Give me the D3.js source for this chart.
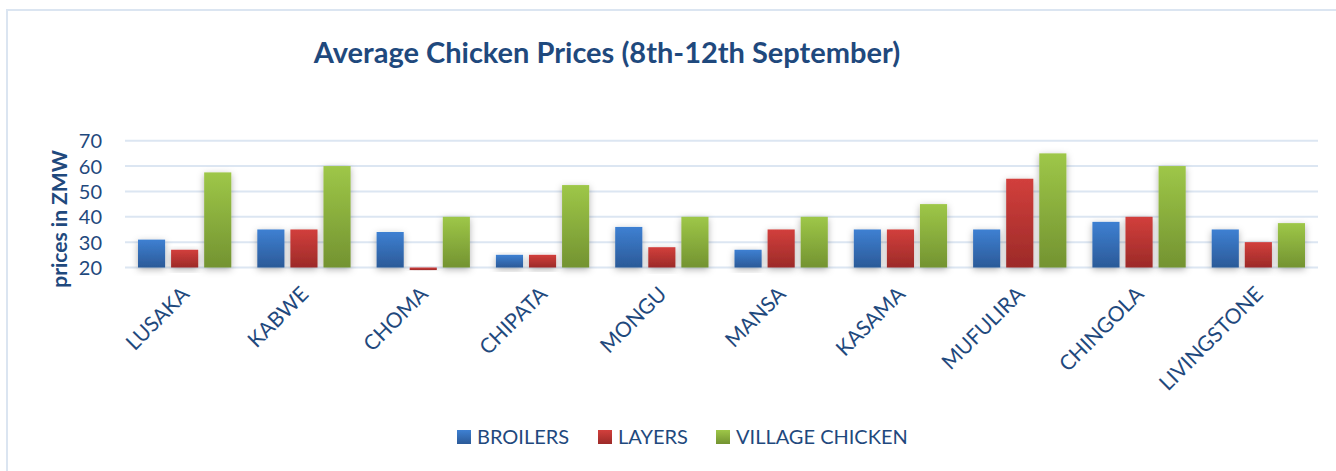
<!DOCTYPE html>
<html>
<head>
<meta charset="utf-8">
<script src="https://cdn.jsdelivr.net/npm/d3@7"></script>
<style>
  html, body { margin: 0; padding: 0; background: #fff; }
  svg { display: block; }
  text { font-family: Lato, "Open Sans", sans-serif; fill: #1f497d; }
</style>
</head>
<body>
<svg id="chart" width="1336" height="471"></svg>
<script>
const categories = ["LUSAKA", "KABWE", "CHOMA", "CHIPATA", "MONGU", "MANSA", "KASAMA", "MUFULIRA", "CHINGOLA", "LIVINGSTONE"];
const seriesNames = ["BROILERS", "LAYERS", "VILLAGE CHICKEN"];
const broilers = [31, 35, 34, 25, 36, 27, 35, 35, 38, 35];
const layers   = [27, 35, 19, 25, 28, 35, 35, 55, 40, 30];
const village  = [57.5, 60, 40, 52.5, 40, 40, 45, 65, 60, 37.5];
const yTicks = [20, 30, 40, 50, 60, 70];
const titleText = "Average Chicken Prices (8th-12th September)";
const yAxisTitle = "prices in ZMW";

const seriesValues = [broilers, layers, village];
const colors = [
  { top: "#3e80d2", bottom: "#2b5a98" },
  { top: "#d23f3c", bottom: "#9c2a28" },
  { top: "#9ec748", bottom: "#739331" }
];

const svg = d3.select("#chart");
const W = 1336, H = 471;
const plot = { left: 125, right: 1318, top: 140.7, bottom: 267.5 };

// outer border
svg.append("rect").attr("x", 7).attr("y", 10).attr("width", W + 10).attr("height", H + 10)
  .attr("fill", "none").attr("stroke", "#dbe5f1").attr("stroke-width", 2);

const defs = svg.append("defs");
colors.forEach((c, i) => {
  const g = defs.append("linearGradient").attr("id", "grad" + i)
    .attr("x1", 0).attr("y1", 0).attr("x2", 0).attr("y2", 1);
  g.append("stop").attr("offset", "0%").attr("stop-color", c.top);
  g.append("stop").attr("offset", "100%").attr("stop-color", c.bottom);
});
const f = defs.append("filter").attr("id", "shadow").attr("x", "-50%").attr("y", "-20%").attr("width", "200%").attr("height", "150%");
f.append("feDropShadow").attr("dx", 0).attr("dy", 2).attr("stdDeviation", 3.5).attr("flood-color", "#000").attr("flood-opacity", 0.3);

const x0 = d3.scaleBand().domain(categories).range([plot.left, plot.right]).paddingInner(0).paddingOuter(0);
const x1 = d3.scaleBand().domain(seriesNames).range([13, x0.bandwidth() - 13]).paddingInner(0.18).paddingOuter(0);
const y = d3.scaleLinear().domain([20, 70]).range([plot.bottom, plot.top]);

// gridlines
svg.append("g").selectAll("line").data(yTicks).join("line")
  .attr("x1", plot.left).attr("x2", plot.right)
  .attr("y1", d => y(d)).attr("y2", d => y(d))
  .attr("stroke", "#dce6f2").attr("stroke-width", 2);

// y axis labels
const yAxis = d3.axisLeft(y).tickValues(yTicks).tickSize(0).tickPadding(0);
const yg = svg.append("g").attr("transform", `translate(${102},0)`).call(yAxis);
yg.select(".domain").remove();
yg.selectAll("text").style("font-size", "20px").style("fill", "#1f497d")
  .style("font-family", "Lato, sans-serif").attr("dy", "0.36em");

// bars
const groups = svg.append("g").selectAll("g").data(categories).join("g")
  .attr("transform", d => `translate(${x0(d)},0)`);
groups.selectAll("rect").data((d, i) => seriesNames.map((s, k) => ({ s, k, v: seriesValues[k][i] })))
  .join("rect")
  .attr("x", d => x1(d.s))
  .attr("width", x1.bandwidth())
  .attr("y", d => Math.min(y(d.v), y(20)))
  .attr("height", d => Math.abs(y(20) - y(d.v)))
  .attr("fill", d => `url(#grad${d.k})`)
  .attr("filter", "url(#shadow)");

// x labels
const xAxis = d3.axisBottom(x0).tickSize(0).tickPadding(0);
const xg = svg.append("g").attr("transform", `translate(0,${plot.bottom})`).call(xAxis);
xg.select(".domain").remove();
xg.selectAll("text")
  .style("font-size", "21px").style("font-family", "Lato, sans-serif").style("fill", "#1f497d")
  .attr("text-anchor", "end").attr("dy", null).attr("y", 0)
  .attr("transform", "translate(6,28) rotate(-45)");

// title
svg.append("text").attr("x", 607).attr("y", 63).attr("text-anchor", "middle")
  .style("font-size", "29px").style("font-weight", "bold").text(titleText);

// y-axis title
svg.append("text").attr("transform", `translate(67,${219}) rotate(-90)`).attr("text-anchor", "middle")
  .style("font-size", "21px").style("font-weight", "bold").text(yAxisTitle);

// legend
const legendItems = [
  { name: seriesNames[0], x: 457 },
  { name: seriesNames[1], x: 598 },
  { name: seriesNames[2], x: 716 }
];
const lg = svg.append("g");
legendItems.forEach((it, k) => {
  lg.append("rect").attr("x", it.x).attr("y", 430).attr("width", 14).attr("height", 14)
    .attr("fill", `url(#grad${k})`);
  lg.append("text").attr("x", it.x + 20).attr("y", 444).style("font-size", "20px").text(it.name);
});
</script>
</body>
</html>
